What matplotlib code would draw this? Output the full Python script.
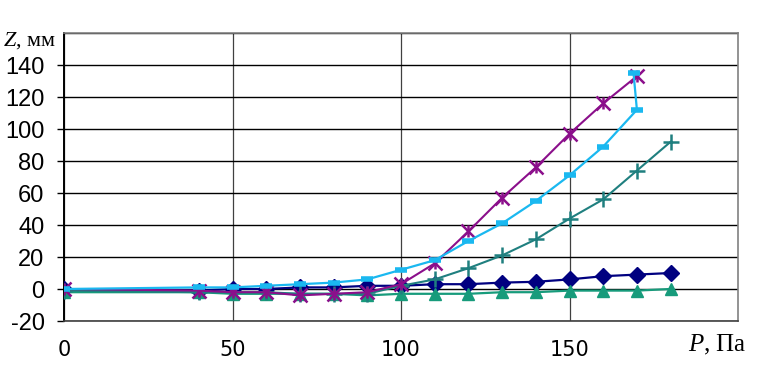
import matplotlib
matplotlib.use("Agg")
import matplotlib.pyplot as plt
import numpy as np

plt.rcParams["axes.unicode_minus"] = False
plt.rcParams["mathtext.fontset"] = "custom"
plt.rcParams["mathtext.it"] = "Liberation Serif:italic"
plt.rcParams["mathtext.rm"] = "Liberation Serif"

# pressure, Pa
p = [0, 40, 50, 60, 70, 80, 90, 100, 110, 120, 130, 140, 150, 160, 170, 180]

# displacement Z, mm for each series
z_diamond = [0, -1, 0, 0, 1, 1, 2, 2, 3, 3, 4, 4.5, 6, 8, 9, 10]
z_triangle = [-2, -2, -3, -3, -3, -3, -4, -3, -3, -3, -2, -2, -1, -1, -1, 0]
z_plus = [-1, -2, -2, -2, -3, -3, -3, 2, 6, 13, 21, 31, 44, 56, 74, 92]

p_cross = [0, 40, 50, 60, 70, 80, 90, 100, 110, 120, 130, 140, 150, 160, 170]
z_cross = [0, -1, -2, -2, -4, -3, -2, 3, 16, 36, 57, 76, 97, 116, 133]

p_dash = [0, 40, 50, 60, 70, 80, 90, 100, 110, 120, 130, 140, 150, 160, 170, 169]
z_dash = [0, 1, 1, 2, 3, 4, 6, 12, 18, 30, 41, 55, 71, 89, 112, 135]

fig = plt.figure(figsize=(7.68, 3.72), dpi=100)
ax = fig.add_axes([64/768, 1-321/372, (738-64)/768, (321-33)/372])

ax.plot(p, z_diamond, color="#000080", lw=1.6, marker="D", ms=8, zorder=3)
ax.plot(p, z_triangle, color="#179b7b", lw=1.6, marker="^", ms=9, zorder=3)
ax.plot(p, z_plus, color="#1f7f7f", lw=1.5, marker="+", ms=11, mew=1.8, zorder=3)
ax.plot(p_cross, z_cross, color="#8b0f8b", lw=1.5, marker="x", ms=10, mew=1.8, zorder=4)
# star marker: x with a short vertical bar
ax.plot(p_cross, z_cross, color="#8b0f8b", ls="none", marker="|", ms=8, mew=1.8, zorder=4)
ax.plot(p_dash, z_dash, color="#1ab8f0", lw=1.6, marker="_", ms=9, mew=4, zorder=5)

ax.set_xlim(0, 200)
ax.set_ylim(-20, 160)
ax.set_xticks([0, 50, 100, 150])
ax.set_yticks(np.arange(-20, 141, 20))
ax.set_yticks([160], minor=True)
ax.grid(True, which="both", axis="y", color="black", lw=1)
ax.grid(True, axis="x", color="#404040", lw=0.9)
ax.set_axisbelow(True)

for s in ["top", "right"]:
    ax.spines[s].set_color("#808080")
    ax.spines[s].set_linewidth(1.2)
ax.spines["left"].set_linewidth(1.4)
ax.spines["bottom"].set_linewidth(1.2)
ax.spines["bottom"].set_color("#404040")

ax.tick_params(axis="y", which="major", length=5, width=1, direction="out", pad=9)
ax.tick_params(axis="y", which="minor", length=0)
ax.tick_params(axis="x", length=0, pad=14)
for lbl in ax.get_yticklabels():
    lbl.set_fontfamily("Liberation Sans")
    lbl.set_fontsize(17)
for lbl in ax.get_xticklabels():
    lbl.set_fontfamily("DejaVu Sans")
    lbl.set_fontsize(15)

fig.text(3/768, 1-41/372, "$\\it{Z}$, мм", family="Liberation Serif", fontsize=16,
         ha="left", va="center")
fig.text(688/768, 1-345/372, "$\\it{P}$, Па", family="Liberation Serif", fontsize=18,
         ha="left", va="center")

fig.savefig("out.png", dpi=100)
